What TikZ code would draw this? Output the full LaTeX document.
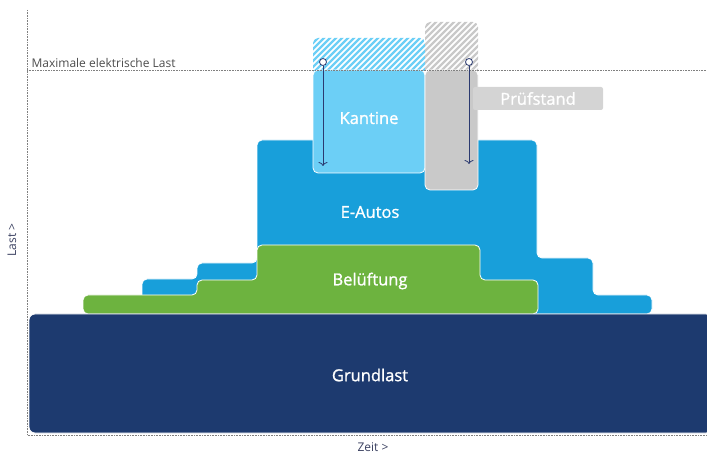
\documentclass[tikz,border=0pt]{standalone}
\usepackage{fontspec}
\setmainfont{Open Sans}
\newfontfamily\semib{Open Sans}[FakeBold=1.2]
\usepackage{xcolor}
\usetikzlibrary{arrows.meta}
\definecolor{grundcol}{HTML}{1D3A6F}
\definecolor{autocol}{HTML}{189FDA}
\definecolor{kantcol}{HTML}{6CCFF6}
\definecolor{lueftcol}{HTML}{6DB33F}
\definecolor{pruefcol}{HTML}{C9C9C9}
\definecolor{arrowcol}{HTML}{2B3A70}
\definecolor{axiscol}{HTML}{3A4060}

\begin{document}
\begin{tikzpicture}
        [x=1pt,y=-1pt,
         lbl/.style={text=white,font=\semib\fontsize{16.5}{19}\selectfont},
         axlbl/.style={text=axiscol,font=\fontsize{12}{14}\selectfont},
         axis/.style={densely dotted,gray,line width=.6pt},
         dot/.style={circle,draw=arrowcol,fill=white,line width=.8pt,inner sep=0pt,minimum size=7pt},
         pfeil/.style={-{To[length=4pt,width=9pt]},arrowcol,line width=.8pt}]

        \useasboundingbox (0,0) rectangle (707,454);

        \draw[axis] (27,10) -- (27,435) -- (707,435);

        \fill[autocol,draw=white,line width=.8pt,rounded corners=5pt]
            (142,314) -- (142,279) -- (197,279) -- (197,263) -- (257,263) -- (257,140)
            -- (537,140) -- (537,258) -- (593,258) -- (593,295) -- (652,295) -- (652,314) -- cycle;
        \fill[lueftcol,draw=white,line width=.8pt,rounded corners=5pt]
            (83,314) -- (83,295) -- (197,295) -- (197,280) -- (257,280) -- (257,245)
            -- (480,245) -- (480,280) -- (538,280) -- (538,314) -- cycle;
        \fill[grundcol,draw=white,line width=.8pt,rounded corners=6pt]
            (29,314) rectangle (712,433);

        \begin{scope}
            \clip[rounded corners=5pt] (313,75) -- (313,38) -- (425,38) -- (425,75) -- cycle;
            \foreach \i in {280,286,...,430}
                \draw[kantcol,line width=2.2pt] (\i,76) -- ++(44,-44);
        \end{scope}
        \begin{scope}
            \clip[rounded corners=5pt] (425,75) -- (425,22) -- (478,22) -- (478,75) -- cycle;
            \foreach \i in {376,382,...,484}
                \draw[pruefcol,line width=2.2pt] (\i,76) -- ++(60,-60);
        \end{scope}
        \fill[kantcol,draw=white,line width=.8pt,rounded corners=5pt]
            (313,70) -- (313,173) -- (425,173) -- (425,70) -- cycle;
        \fill[pruefcol,draw=white,line width=.8pt,rounded corners=5pt]
            (425,70) -- (425,190) -- (478,190) -- (478,70) -- cycle;

        \draw[axis] (27,70) -- (707,70);

        \node[axlbl,anchor=south west,text=black!70] (maxlast) at (28,71) {Maximale elektrische Last};
        \node[axlbl,rotate=90] (lastax) at (12,240) {Last >};
        \node[axlbl] (zeitax) at (373,447) {Zeit >};

        \node[lbl] (kantine) at (369,118) {Kantine};
        \node[lbl] (autos) at (370,212) {E-Autos};
        \node[lbl] (lueftung) at (370,281) {Belüftung};
        \node[lbl] (grundlast) at (370,375) {Grundlast};
        \node[lbl,fill=pruefcol!80,rounded corners=2pt,minimum width=130pt,minimum height=23pt] (pruef) at (538,98.5) {Prüfstand};

        \node[dot] (kdot) at (323,62) {};
        \node[dot] (pdot) at (469,62) {};
        \coordinate (kend) at (323,166);
        \coordinate (pend) at (469,164);

        \draw[pfeil] (kdot) -- (kend);
        \draw[pfeil] (pdot) -- (pend);
    \end{tikzpicture}
\end{document}
